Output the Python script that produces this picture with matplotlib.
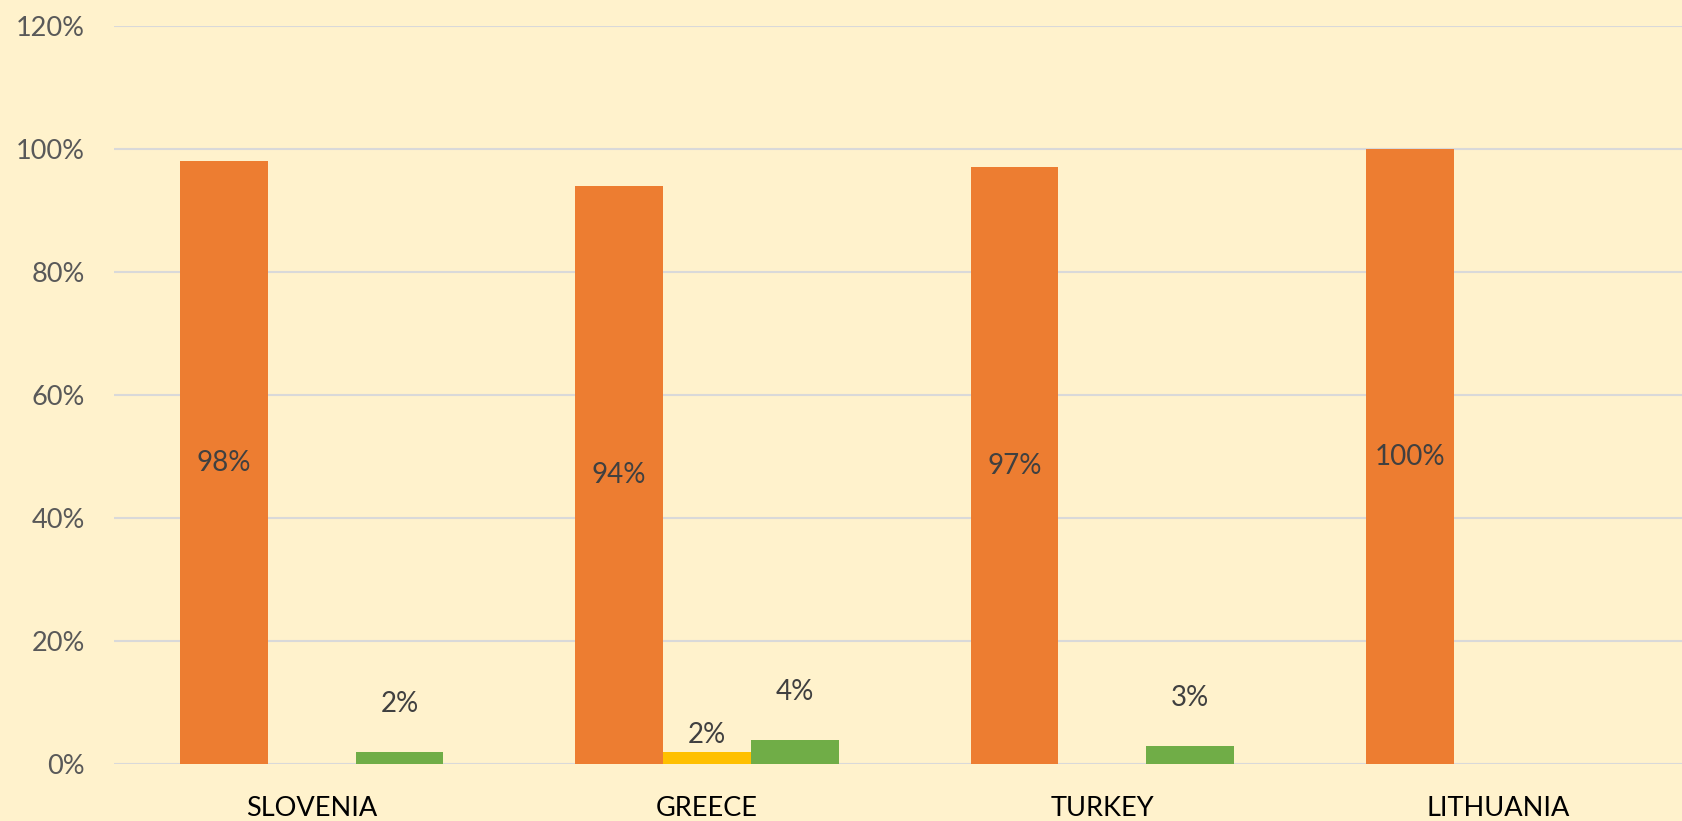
import matplotlib.pyplot as plt
import numpy as np

plt.rcParams['font.family'] = ['Lato', 'DejaVu Sans']

countries = ['SLOVENIA', 'GREECE', 'TURKEY', 'LITHUANIA']
orange_vals = [98, 94, 97, 100]
yellow_vals = [0, 2, 0, 0]
green_vals = [2, 4, 3, 0]

bg = '#FFF2CC'
fig = plt.figure(figsize=(16.83, 8.21), dpi=100, facecolor=bg)
ax = fig.add_axes([0.0677, 0.0691, 0.9397, 0.8996], facecolor=bg)

x = np.arange(len(countries))
w = 0.222

b1 = ax.bar(x - w, np.array(orange_vals) / 100, w, color='#ED7D31', zorder=3)
b2 = ax.bar(x, np.array(yellow_vals) / 100, w, color='#FFC000', zorder=3)
b3 = ax.bar(x + w, np.array(green_vals) / 100, w, color='#70AD47', zorder=3)

# labels: orange centred in bar, others above
for rect, v in zip(b1, orange_vals):
    ax.text(rect.get_x() + rect.get_width() / 2, v / 200, f'{v}%',
            ha='center', va='center', fontsize=20, color='#404040', zorder=4)
for rect, v in zip(b2, yellow_vals):
    if v:
        ax.annotate(f'{v}%', (rect.get_x() + rect.get_width() / 2, v / 100),
                    xytext=(0, 3), textcoords='offset points',
                    ha='center', va='bottom', fontsize=20, color='#404040')
for rect, v in zip(b3, green_vals):
    if v:
        ax.annotate(f'{v}%', (rect.get_x() + rect.get_width() / 2, v / 100),
                    xytext=(0, 25), textcoords='offset points',
                    ha='center', va='bottom', fontsize=20, color='#404040')

ax.set_xlim(-0.5, 3.5)
ax.set_ylim(0, 1.2)
ax.set_yticks(np.arange(0, 1.21, 0.2))
ax.set_yticklabels([f'{int(round(t * 100))}%' for t in np.arange(0, 1.21, 0.2)])
ax.set_xticks(x)
ax.set_xticklabels(countries)
ax.tick_params(axis='y', length=0, pad=21, labelsize=19.5, labelcolor='#595959')
ax.tick_params(axis='x', length=0, pad=23, labelsize=19.5, labelcolor='#000000')
ax.grid(axis='y', color='#D9D9D9', linewidth=1.5, zorder=0)
ax.set_axisbelow(True)
for s in ax.spines.values():
    s.set_visible(False)

fig.savefig('out.png', dpi=100, facecolor=bg)
